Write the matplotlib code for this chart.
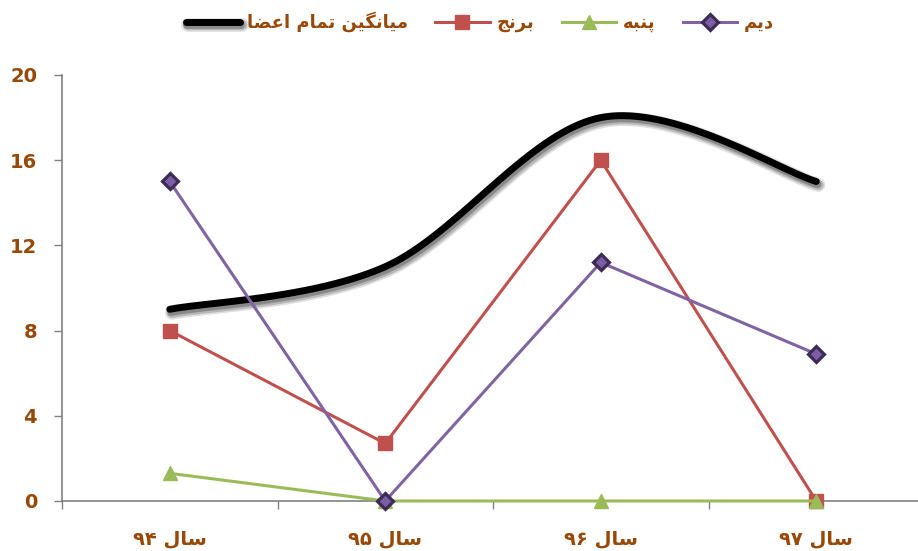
import matplotlib
matplotlib.use("Agg")
import matplotlib.pyplot as plt
import matplotlib.patheffects as pe
import numpy as np

# ---------------- data ----------------
categories = ["سال ۹۴", "سال ۹۵", "سال ۹۶", "سال ۹۷"]
avg_all = [9.0, 11.0, 18.0, 15.0]      # میانگین تمام اعضا
rice = [8.0, 2.7, 16.0, 0.0]            # برنج
cotton = [1.3, 0.0, 0.0, 0.0]           # پنبه
dryland = [15.0, 0.0, 11.2, 6.9]        # دیم
series_names = ["میانگین تمام اعضا", "برنج", "پنبه", "دیم"]
y_ticks = [0, 4, 8, 12, 16, 20]

# ---------------- simple Persian shaping (matplotlib has no bidi / shaping) ----------------
FORMS = {  # isolated, final, initial, medial
    'ا': ('\uFE8D', '\uFE8E', None, None),
    'ب': ('\uFE8F', '\uFE90', '\uFE91', '\uFE92'),
    'پ': ('\uFB56', '\uFB57', '\uFB58', '\uFB59'),
    'ت': ('\uFE95', '\uFE96', '\uFE97', '\uFE98'),
    'ج': ('\uFE9D', '\uFE9E', '\uFE9F', '\uFEA0'),
    'د': ('\uFEA9', '\uFEAA', None, None),
    'ر': ('\uFEAD', '\uFEAE', None, None),
    'س': ('\uFEB1', '\uFEB2', '\uFEB3', '\uFEB4'),
    'ض': ('\uFEBD', '\uFEBE', '\uFEBF', '\uFEC0'),
    'ع': ('\uFEC9', '\uFECA', '\uFECB', '\uFECC'),
    'گ': ('\uFB92', '\uFB93', '\uFB94', '\uFB95'),
    'ل': ('\uFEDD', '\uFEDE', '\uFEDF', '\uFEE0'),
    'م': ('\uFEE1', '\uFEE2', '\uFEE3', '\uFEE4'),
    'ن': ('\uFEE5', '\uFEE6', '\uFEE7', '\uFEE8'),
    'ه': ('\uFEE9', '\uFEEA', '\uFEEB', '\uFEEC'),
    'ی': ('\uFBFC', '\uFBFD', '\uFBFE', '\uFBFF'),
}


def joins_left(c):
    return c in FORMS and FORMS[c][2] is not None


def shape_word(w):
    res = []
    for i, c in enumerate(w):
        if c not in FORMS:
            res.append(c)
            continue
        prev = w[i - 1] if i > 0 else None
        nxt = w[i + 1] if i + 1 < len(w) else None
        jp = prev is not None and joins_left(prev)
        jn = nxt is not None and nxt in FORMS and joins_left(c)
        iso, fin, ini, med = FORMS[c]
        res.append(med if (jp and jn) else fin if jp else ini if jn else iso)
    return ''.join(res)


def rtl(text):
    # shape each word, then lay out in visual (right-to-left) order; digit runs stay LTR
    out = []
    for w in text.split(' '):
        if all('\u06F0' <= c <= '\u06F9' or c.isdigit() for c in w):
            out.append(w)
        else:
            out.append(shape_word(w)[::-1])
    return ' '.join(reversed(out))


# ---------------- smooth curve (Excel-like bezier) ----------------
def smooth(xs, ys, n=40):
    P = np.column_stack([xs, ys]).astype(float)
    pts = []
    for i in range(len(P) - 1):
        p0 = P[i - 1] if i > 0 else P[i]
        p1 = P[i]
        p2 = P[i + 1]
        p3 = P[i + 2] if i + 2 < len(P) else P[i + 1]
        c1 = p1 + (p2 - p0) / 6.0
        c2 = p2 - (p3 - p1) / 6.0
        t = np.linspace(0, 1, n)[:, None]
        seg = ((1 - t) ** 3) * p1 + 3 * ((1 - t) ** 2) * t * c1 + 3 * (1 - t) * t ** 2 * c2 + t ** 3 * p2
        pts.append(seg if i == 0 else seg[1:])
    pts = np.vstack(pts)
    return pts[:, 0], pts[:, 1]


brown = '#984807'
plt.rcParams['font.family'] = ['DejaVu Sans']

fig = plt.figure(figsize=(9.18, 5.51), dpi=100)
W, H = 918, 551
ax = fig.add_axes([62 / W, 50 / H, (924 - 62) / W, 426 / H])

x = np.arange(len(categories))
sx, sy = smooth(x, avg_all)
shadow = [pe.SimpleLineShadow(offset=(1.5, -2.5), alpha=0.12, shadow_color='black', linewidth=10),
          pe.SimpleLineShadow(offset=(1.5, -2.5), alpha=0.18, shadow_color='black', linewidth=7.5),
          pe.SimpleLineShadow(offset=(1.0, -2.0), alpha=0.25, shadow_color='black', linewidth=5.5),
          pe.Normal()]
ax.plot(sx, sy, color='black', lw=5.0, solid_capstyle='round', zorder=3,
        path_effects=shadow, label=rtl(series_names[0]))
ax.plot(x, rice, color='#C0504D', lw=2.2, marker='s', ms=10, mfc='#C0504D', mec='#C0504D', zorder=4,
        clip_on=False, label=rtl(series_names[1]))
ax.plot(x, cotton, color='#9BBB59', lw=2.2, marker='^', ms=10, mfc='#9BBB59', mec='#9BBB59', zorder=5,
        clip_on=False, label=rtl(series_names[2]))
ax.plot(x, dryland, color='#8064A2', lw=2.2, marker='D', ms=8, mfc='#7B5EA5', mec='#3D2C55', mew=2.3, zorder=6,
        clip_on=False, label=rtl(series_names[3]))

ax.set_xlim(-0.5, 3.5)
ax.set_ylim(0, 20)
ax.set_yticks(y_ticks)
ax.set_yticklabels([str(v) for v in y_ticks])
ax.set_xticks(x)
ax.set_xticklabels([rtl(c) for c in categories])
ax.set_xticks(np.arange(-0.5, 4.0, 1.0), minor=True)
ax.tick_params(axis='x', which='major', length=0, pad=20, labelsize=14, labelcolor=brown)
ax.tick_params(axis='x', which='minor', length=6, width=1, color='#808080', direction='out')
ax.tick_params(axis='y', length=6, width=1, color='#808080', direction='out', pad=12,
               labelsize=14, labelcolor=brown)
for lbl in ax.get_xticklabels() + ax.get_yticklabels():
    lbl.set_fontweight('bold')

for s in ['top', 'right']:
    ax.spines[s].set_visible(False)
for s in ['left', 'bottom']:
    ax.spines[s].set_color('#808080')
    ax.spines[s].set_linewidth(1.2)

leg = fig.legend(loc='center', bbox_to_anchor=(480 / W, 1 - 22 / H), ncol=4, frameon=False,
                 prop={'weight': 'bold', 'size': 13}, handlelength=3.0, columnspacing=1.5,
                 handletextpad=0.4)
for t in leg.get_texts():
    t.set_color(brown)

fig.savefig('out.png', dpi=100)
